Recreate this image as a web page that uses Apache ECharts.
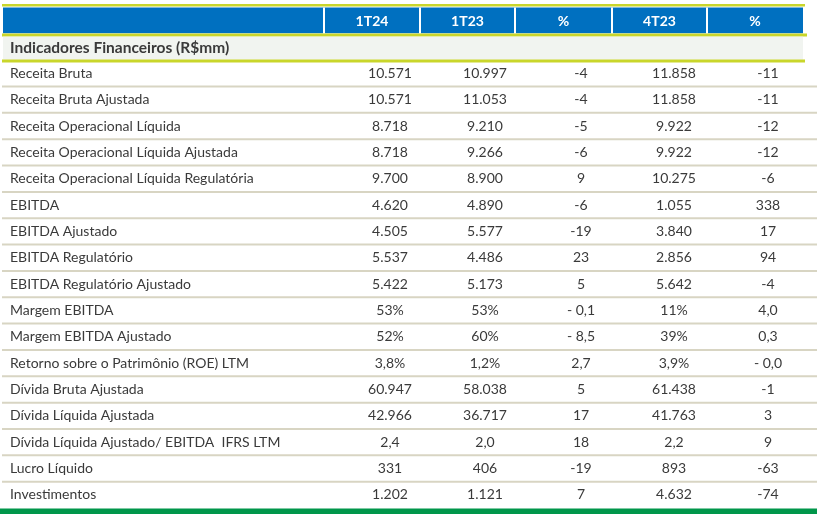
<!DOCTYPE html>
<html>
<head>
<meta charset="utf-8">
<script src="https://cdn.jsdelivr.net/npm/echarts@6/dist/echarts.min.js"></script>
<style>html,body{margin:0;padding:0;background:#fff}#c{width:821px;height:514px}</style>
</head>
<body>
<div id="c"></div>
<script>
// ---- data ----
const headers = ['1T24', '1T23', '%', '4T23', '%'];
const groupTitle = 'Indicadores Financeiros (R$mm)';
const rowLabels = [
  'Receita Bruta',
  'Receita Bruta Ajustada',
  'Receita Operacional Líquida',
  'Receita Operacional Líquida Ajustada',
  'Receita Operacional Líquida Regulatória',
  'EBITDA',
  'EBITDA Ajustado',
  'EBITDA Regulatório',
  'EBITDA Regulatório Ajustado',
  'Margem EBITDA',
  'Margem EBITDA Ajustado',
  'Retorno sobre o Patrimônio (ROE) LTM',
  'Dívida Bruta Ajustada',
  'Dívida Líquida Ajustada',
  'Dívida Líquida Ajustado/ EBITDA  IFRS LTM',
  'Lucro Líquido',
  'Investimentos'
];
const v1T24 = ['10.571','10.571','8.718','8.718','9.700','4.620','4.505','5.537','5.422','53%','52%','3,8%','60.947','42.966','2,4','331','1.202'];
const v1T23 = ['10.997','11.053','9.210','9.266','8.900','4.890','5.577','4.486','5.173','53%','60%','1,2%','58.038','36.717','2,0','406','1.121'];
const varYoY = ['-4','-4','-5','-6','9','-6','-19','23','5','- 0,1','- 8,5','2,7','5','17','18','-19','7'];
const v4T23 = ['11.858','11.858','9.922','9.922','10.275','1.055','3.840','2.856','5.642','11%','39%','3,9%','61.438','41.763','2,2','893','4.632'];
const varQoQ = ['-11','-11','-12','-12','-6','338','17','94','-4','4,0','0,3','- 0,0','-1','3','9','-63','-74'];

// ---- layout (positions in x-axis units) ----
const colEdges = [3, 324, 420, 515, 612, 707, 803];
const valueCenters = [390, 485, 581, 674, 768];
const labelX = 10;
const tableRight = 805;
const rowLineRight = 817;

const valueCols = [v1T24, v1T23, varYoY, v4T23, varQoQ];
const yCats = ['header', 'group'].concat(rowLabels.map((_, i) => 'r' + i));

const BLUE = '#0070c0', LIME = '#c9d62b', GRPBG = '#f1f4f0', SEP = '#d8d5c3', GREEN = '#00964a', TXT = '#3a3a3a';
const FONT = 'Lato, "Open Sans", sans-serif';

function xc(api, x, r) { return api.coord([x, r])[0]; }

const chart = echarts.init(document.getElementById('c'), null, { renderer: 'canvas' });
chart.setOption({
  animation: false,
  grid: { left: 0, right: 0, top: 7.5, bottom: 6 },
  xAxis: { type: 'value', min: 0, max: 821, show: false },
  yAxis: { type: 'category', data: yCats, inverse: true, show: false },
  series: [
    {
      // header row
      type: 'custom', clip: false, silent: true,
      data: [[0, 0]], encode: { x: 0, y: 1 },
      renderItem: function (params, api) {
        const r = api.value(1);
        const cy = api.coord([0, r])[1];
        const h = api.size([0, 1])[1];
        const top = cy - h / 2, bot = cy + h / 2;
        const ch = [];
        const x0 = xc(api, colEdges[0], r), x1 = xc(api, colEdges[colEdges.length - 1], r);
        ch.push({ type: 'rect', shape: { x: x0, y: top, width: x1 - x0, height: bot - top - 0.5 }, style: { fill: BLUE } });
        for (let i = 1; i < colEdges.length - 1; i++) {
          const xe = xc(api, colEdges[i], r);
          ch.push({ type: 'rect', shape: { x: xe - 1, y: top, width: 2, height: bot - top }, style: { fill: '#ffffff' } });
        }
        headers.forEach((t, i) => {
          const cx = (xc(api, colEdges[i + 1], r) + xc(api, colEdges[i + 2], r)) / 2;
          ch.push({ type: 'text', style: { text: t, x: cx, y: cy + 0.5, align: 'center', verticalAlign: 'middle', fill: '#ffffff', font: 'bold 14px ' + FONT } });
        });
        ch.push({ type: 'rect', shape: { x: xc(api, 2, r), y: top - 3.5, width: xc(api, tableRight, r) - xc(api, 2, r), height: 2.5 }, style: { fill: LIME } });
        ch.push({ type: 'rect', shape: { x: xc(api, 2, r), y: bot - 0.3, width: xc(api, 807, r) - xc(api, 2, r), height: 3 }, style: { fill: LIME } });
        return { type: 'group', children: ch };
      }
    },
    {
      // group title row
      type: 'custom', clip: false, silent: true,
      data: [[0, 1]], encode: { x: 0, y: 1 },
      renderItem: function (params, api) {
        const r = api.value(1);
        const cy = api.coord([0, r])[1];
        const h = api.size([0, 1])[1];
        const top = cy - h / 2, bot = cy + h / 2;
        const x0 = xc(api, colEdges[0], r), x1 = xc(api, colEdges[colEdges.length - 1], r);
        return { type: 'group', children: [
          { type: 'rect', shape: { x: x0, y: top + 3, width: x1 - x0, height: bot - top - 3.5 }, style: { fill: GRPBG } },
          { type: 'text', style: { text: groupTitle, x: xc(api, labelX, r), y: cy + 1, align: 'left', verticalAlign: 'middle', fill: TXT, font: 'bold 15.5px ' + FONT } },
          { type: 'rect', shape: { x: xc(api, 2, r), y: bot - 0.7, width: xc(api, tableRight, r) - xc(api, 2, r), height: 3 }, style: { fill: LIME } }
        ] };
      }
    },
    {
      // data rows
      type: 'custom', clip: false, silent: true,
      data: rowLabels.map((_, i) => [0, i + 2]), encode: { x: 0, y: 1 },
      renderItem: function (params, api) {
        const r = api.value(1);
        const i = r - 2;
        const cy = api.coord([0, r])[1];
        const h = api.size([0, 1])[1];
        const bot = cy + h / 2;
        const ch = [];
        ch.push({ type: 'text', style: { text: rowLabels[i], x: xc(api, labelX, r), y: cy, align: 'left', verticalAlign: 'middle', fill: TXT, font: '14px ' + FONT } });
        valueCols.forEach((col, k) => {
          ch.push({ type: 'text', style: { text: col[i], x: xc(api, valueCenters[k], r), y: cy, align: 'center', verticalAlign: 'middle', fill: TXT, font: '14px ' + FONT } });
        });
        const lx0 = xc(api, 2, r), lx1 = xc(api, rowLineRight, r);
        if (i < rowLabels.length - 1) {
          ch.push({ type: 'rect', shape: { x: lx0, y: bot - 1, width: lx1 - lx0, height: 2 }, style: { fill: SEP } });
        } else {
          ch.push({ type: 'rect', shape: { x: xc(api, 0, r), y: bot + 0.5, width: lx1 - xc(api, 0, r), height: 7 }, style: { fill: GREEN } });
        }
        return { type: 'group', children: ch };
      }
    }
  ]
});
</script>
</body>
</html>
